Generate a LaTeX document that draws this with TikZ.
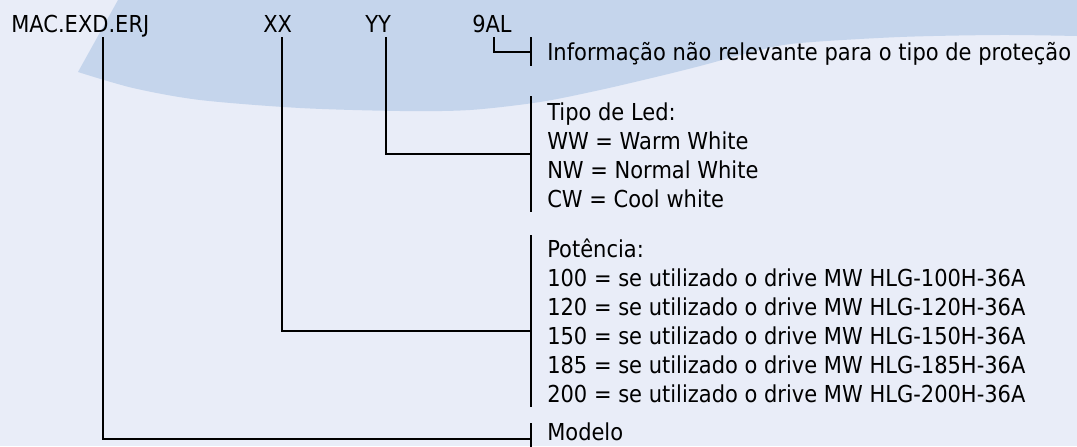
\documentclass[tikz,border=0pt]{standalone}
\usepackage{fontspec}
\setmainfont{DejaVu Sans}[FakeStretch=0.9]
\definecolor{bgpale}{RGB}{233,237,248}
\definecolor{bgblue}{RGB}{197,213,236}
\tikzset{%
    code/.style={font=\fontsize{17.5}{21}\selectfont,text=black,inner sep=0pt,anchor=base west},
    desc/.style={code},
    bar/.style={line width=0.8pt},
    link/.style={line width=0.8pt},
}
\begin{document}
\begin{tikzpicture}[x=0.75pt,y=-0.75pt]
    \useasboundingbox (0,0) rectangle (1077,446);
    \clip (0,0) rectangle (1077,446);
    % background
    \fill[bgpale] (0,0) rectangle (1077,446);
    \fill[bgblue] (118,0) -- (78,72) -- plot[smooth] coordinates {(78,72) (133,88) (200,100) (300,108) (400,111) (470,110) (540,102) (600,90) (660,76) (700,66) (760,50) (800,43) (900,37) (1000,35) (1077,36)} -- (1077,0) -- cycle;

    % code
    \node[code] (mac) at (11,32) {MAC.EXD.ERJ};
    \node[code] (xx) at (263,32) {XX};
    \node[code] (yy) at (365,32) {YY};
    \node[code] (nal) at (472,32) {9AL};

    % descriptions
    \node[desc] (info) at (547,60) {Informação não relevante para o tipo de proteção};
    \node[desc] (led) at (547,120) {Tipo de Led:};
    \node[desc] (ww) at (547,149) {WW = Warm White};
    \node[desc] (nw) at (547,178) {NW = Normal White};
    \node[desc] (cw) at (547,207) {CW = Cool white};
    \node[desc] (pot) at (547,257) {Potência:};
    \foreach \w [count=\i] in {100,120,150,185,200}
        \node[desc] (pot\w) at (547,257+29*\i) {\w{} = se utilizado o drive MW HLG-\w H-36A};
    \node[desc] (modelo) at (547,440) {Modelo};

    % brackets
    \draw[bar] (531,37) -- (531,66);
    \draw[bar] (531,96) -- (531,212);
    \draw[bar] (531,235) -- (531,407);
    \draw[bar] (531,423) -- (531,460);

    \coordinate (macdrop) at (103,37);
    \coordinate (xxdrop) at (282,37);
    \coordinate (yydrop) at (386,37);
    \coordinate (naldrop) at (494,37);
    \coordinate (infotick) at (531,52);
    \coordinate (ledtick) at (531,154);
    \coordinate (pottick) at (531,331);
    \coordinate (modelotick) at (531,439);

    \draw[link] (naldrop) |- (infotick);
    \draw[link] (yydrop) |- (ledtick);
    \draw[link] (xxdrop) |- (pottick);
    \draw[link] (macdrop) |- (modelotick);
\end{tikzpicture}
\end{document}
